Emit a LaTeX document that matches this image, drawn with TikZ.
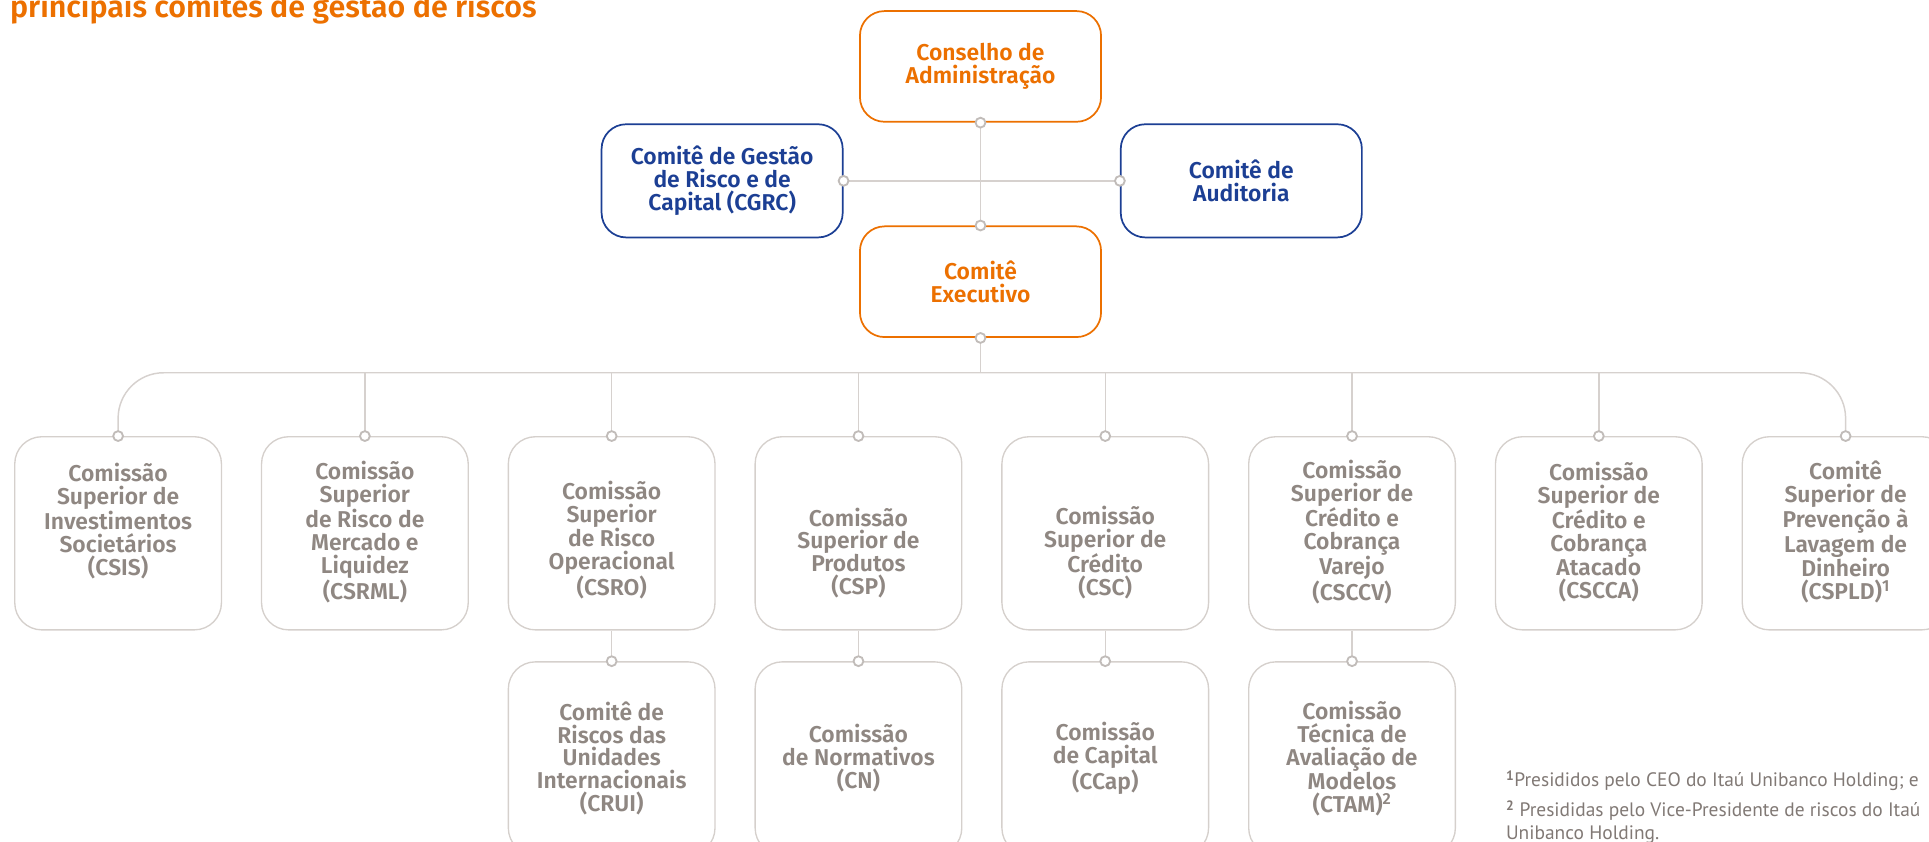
\documentclass[tikz,border=0pt]{standalone}
\usepackage{fontspec}
\setmainfont{Fira Sans}[BoldFont={Fira Sans SemiBold}]
\newfontfamily\notefont{PT Sans}
\usepackage{tikz}
\usetikzlibrary{positioning}
\usepackage{xcolor}
\definecolor{itauorange}{HTML}{EC7000}
\definecolor{itaublue}{HTML}{1C3F94}
\definecolor{boxgray}{HTML}{D5D0CC}
\definecolor{txtgray}{HTML}{8F8782}
\definecolor{linegray}{HTML}{D6D1CE}

\begin{document}
\begin{tikzpicture}[x=1pt,y=-1pt]
	\tikzstyle{every node}=[font=\fontsize{18.6}{18.6}\selectfont\bfseries, align=center, inner sep=0pt]
	\tikzstyle{orangebox}=[draw=itauorange, line width=1.4pt, rounded corners=20pt, minimum width=196pt, minimum height=90pt, text=itauorange, fill=white]
	\tikzstyle{bluebox}=[orangebox, draw=itaublue, text=itaublue, minimum height=92pt]
	\tikzstyle{lowbox}=[draw=boxgray, line width=1.1pt, rounded corners=22pt, minimum width=168pt, minimum height=157pt, text=txtgray]
	\tikzstyle{lowtext}=[text=txtgray]
	\tikzstyle{link}=[draw=linegray, line width=1.2pt]
	\tikzstyle{dot}=[draw=linegray!90!black, line width=1.5pt, fill=white]
	\tikzstyle{note}=[font=\notefont\fontsize{15.8}{18.6}\selectfont, text=txtgray!90!black, align=left, anchor=base west]
	\useasboundingbox (0,0) rectangle (1568,684);

	% title, cut by the top edge
	\node[font=\fontsize{24.7}{26}\selectfont\bfseries, text=itauorange, anchor=base west] (title) at (8,14) {principais comitês de gestão de riscos};

	% top of the structure
	\node[orangebox] (ca) at (797,54) {Conselho de\\Administração};
	\node[bluebox] (cgrc) at (587,147) {Comitê de Gestão\\de Risco e de\\Capital (CGRC)};
	\node[bluebox] (aud) at (1009,147) {Comitê de\\Auditoria};
	\draw[link] (cgrc.east) -- (aud.west);
	\draw[link] (ca.south) -- (797,184);
	\node[orangebox] (ce) at (797,229) {Comitê\\Executivo};

	% first row of commissions
	\node[lowbox] (csis) at (96,433.5) {};
	\node[lowtext] (csis-t) at (96,423.5) {Comissão\\Superior de\\Investimentos\\Societários\\(CSIS)};
	\node[lowbox] (csrml) at (296.6,433.5) {};
	\node[lowtext] (csrml-t) at (296.6,432.5) {Comissão\\Superior\\de Risco de\\Mercado e\\Liquidez\\(CSRML)};
	\node[lowbox] (csro) at (497.2,433.5) {};
	\node[lowtext] (csro-t) at (497.2,439) {Comissão\\Superior\\de Risco\\Operacional\\(CSRO)};
	\node[lowbox] (csp) at (697.8,433.5) {};
	\node[lowtext] (csp-t) at (697.8,449.5) {Comissão\\Superior de\\Produtos\\(CSP)};
	\node[lowbox] (csc) at (898.4,433.5) {};
	\node[lowtext] (csc-t) at (898.4,449.5) {Comissão\\Superior de\\Crédito\\(CSC)};
	\node[lowbox] (csccv) at (1099,433.5) {};
	\node[lowtext] (csccv-t) at (1099,432.5) {Comissão\\Superior de\\Crédito e\\Cobrança\\Varejo\\(CSCCV)};
	\node[lowbox] (cscca) at (1299.6,433.5) {};
	\node[lowtext] (cscca-t) at (1299.6,432.5) {Comissão\\Superior de\\Crédito e\\Cobrança\\Atacado\\(CSCCA)};
	\node[lowbox] (cspld) at (1500.2,433.5) {};
	\node[lowtext] (cspld-t) at (1500.2,432.5) {Comitê\\Superior de\\Prevenção à\\Lavagem de\\Dinheiro\\(CSPLD)\textsuperscript{1}};

	% second row
	\node[lowbox] (crui) at (497.2,616.5) {Comitê de\\Riscos das\\Unidades\\Internacionais\\(CRUI)};
	\node[lowbox] (cn) at (697.8,616.5) {Comissão\\de Normativos\\(CN)};
	\node[lowbox] (ccap) at (898.4,616.5) {Comissão\\de Capital\\(CCap)};
	\node[lowbox] (ctam) at (1099,616.5) {Comissão\\Técnica de\\Avaliação de\\Modelos\\(CTAM)\textsuperscript{2}};

	% bus from the executive committee
	\coordinate (bus) at (797,303);
	\draw[link] (ce.south) -- (bus);
	\draw[link, rounded corners=37pt] (csis.north) |- (bus) -| (cspld.north);
	\draw[link] (csrml.north) -- (csrml.north |- bus);
	\draw[link] (csro.north) -- (csro.north |- bus);
	\draw[link] (csp.north) -- (csp.north |- bus);
	\draw[link] (csc.north) -- (csc.north |- bus);
	\draw[link] (csccv.north) -- (csccv.north |- bus);
	\draw[link] (cscca.north) -- (cscca.north |- bus);
	\draw[link] (csro.south) -- (crui.north);
	\draw[link] (csp.south) -- (cn.north);
	\draw[link] (csc.south) -- (ccap.north);
	\draw[link] (csccv.south) -- (ctam.north);

	% small rings where the lines meet the boxes
	\draw[dot] (ca.south) circle (4);
	\draw[dot] (ce.north) circle (4);
	\draw[dot] (ce.south) circle (4);
	\draw[dot] (cgrc.east) circle (4);
	\draw[dot] (aud.west) circle (4);
	\draw[dot] (csis.north) circle (4);
	\draw[dot] (csrml.north) circle (4);
	\draw[dot] (csro.north) circle (4);
	\draw[dot] (csp.north) circle (4);
	\draw[dot] (csc.north) circle (4);
	\draw[dot] (csccv.north) circle (4);
	\draw[dot] (cscca.north) circle (4);
	\draw[dot] (cspld.north) circle (4);
	\draw[dot] (crui.north) circle (4);
	\draw[dot] (cn.north) circle (4);
	\draw[dot] (ccap.north) circle (4);
	\draw[dot] (ctam.north) circle (4);

	% footnotes
	\node[note] (note1) at (1224,639.5) {\textsuperscript{\bfseries 1}Presididos pelo CEO do Itaú Unibanco Holding; e};
	\node[note] (note2) at (1224,682.5) {\textsuperscript{\bfseries 2} Presididas pelo Vice-Presidente de riscos do Itaú\\Unibanco Holding.};
\end{tikzpicture}
\end{document}
